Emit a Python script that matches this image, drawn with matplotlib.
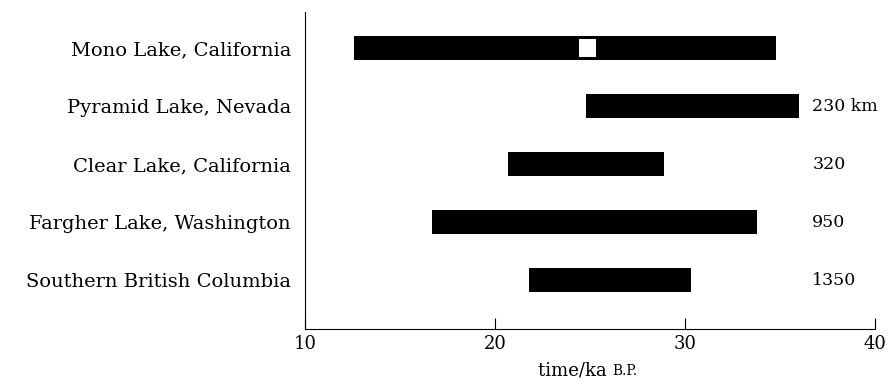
import matplotlib.pyplot as plt

plt.rcParams['font.family'] = ['DejaVu Serif']

sites = ["Mono Lake, California", "Pyramid Lake, Nevada", "Clear Lake, California",
         "Fargher Lake, Washington", "Southern British Columbia"]
start_ka = [12.6, 24.8, 20.7, 16.7, 21.8]
end_ka = [34.8, 36.0, 28.9, 33.8, 30.3]
distance = ["", "230 km", "320", "950", "1350"]
gap_ka = (24.4, 25.3)  # hiatus in the Mono Lake record

fig = plt.figure(figsize=(8.9, 3.89), dpi=100)
ax = fig.add_axes([0.3427, 0.1542, 0.6404, 0.8148])

y = list(range(len(sites)))
widths = [e - s for s, e in zip(start_ka, end_ka)]
ax.barh(y, widths, left=start_ka, height=0.4, color='black')
ax.barh(0, gap_ka[1] - gap_ka[0], left=gap_ka[0], height=0.3, color='white')

for yi, d in zip(y, distance):
    if d:
        ax.text(36.7, yi, d, va='center', ha='left', fontsize=12.5)

ax.set_xlim(10, 40)
ax.set_ylim(4.845, -0.62)
ax.set_xticks([10, 20, 30, 40])
ax.set_yticks(y)
ax.set_yticklabels(sites, fontsize=14)
ax.tick_params(axis='y', length=0, pad=10)
ax.tick_params(axis='x', direction='in', length=8, labelsize=13, pad=4)
ax.spines['top'].set_visible(False)
ax.spines['right'].set_visible(False)

fig.text(0.688, 0.035, "time/ka ", ha='right', va='baseline', fontsize=13)
fig.text(0.688, 0.035, "B.P.", ha='left', va='baseline', fontsize=10)

fig.savefig("out.png", dpi=100)
